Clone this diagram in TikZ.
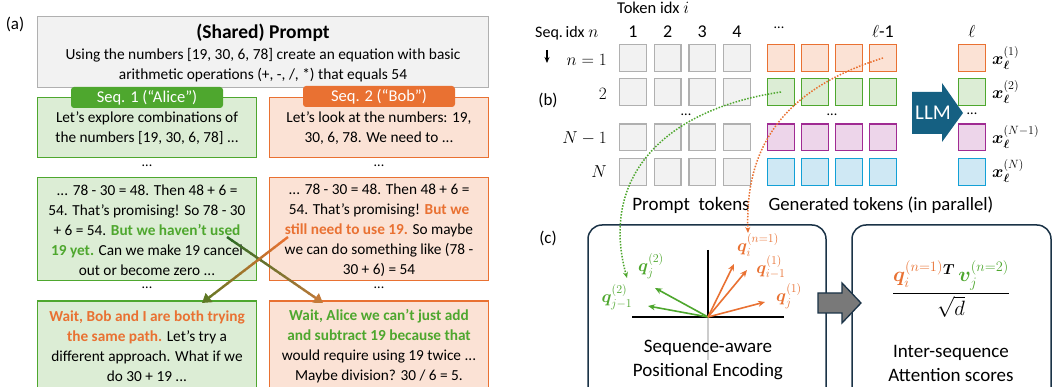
\documentclass[tikz,border=0pt]{standalone}
\usepackage{amsmath,bm}
\usepackage{fontspec}
\setmainfont{Carlito}
\setsansfont{Carlito}
\usetikzlibrary{arrows.meta,calc}

\definecolor{orng}{HTML}{E97132}
\definecolor{orngfill}{HTML}{FBE2D5}
\definecolor{grn}{HTML}{4EA72E}
\definecolor{grnfill}{HTML}{DCEDD5}
\definecolor{purp}{HTML}{A02B93}
\definecolor{purpfill}{HTML}{EDD5EA}
\definecolor{blu}{HTML}{12A0D6}
\definecolor{blufill}{HTML}{CFE8F4}
\definecolor{grayb}{HTML}{B0B0B0}
\definecolor{grayf}{HTML}{F2F2F2}
\definecolor{llmblue}{HTML}{156082}
\definecolor{slate}{HTML}{1B3347}
\definecolor{darkgrn}{HTML}{2C6B24}
\definecolor{rust}{HTML}{C47A3A}
\definecolor{olive}{HTML}{5E7824}

% gradient connector drawn as short coloured pieces, the last one with a tip
\newcommand\gradline[4]{%
  \foreach \k in {0,...,18}{%
    \pgfmathsetmacro\pa{\k/20}%
    \pgfmathsetmacro\pb{(\k+1.15)/20}%
    \pgfmathsetmacro\mixv{100-\k*5.2}%
    \draw[line width=2.4pt, color=#3!\mixv!#4]
      ($(#1)!\pa!(#2)$) -- ($(#1)!\pb!(#2)$);
  }%
  \draw[line width=2.4pt, color=#4, -{Triangle[length=9pt,width=11pt]}]
    ($(#1)!0.95!(#2)$) -- (#2);
}

\begin{document}
\begin{tikzpicture}[x=1pt,y=-1pt,
  bodytext/.style={align=center, font=\fontsize{15.3}{20}\selectfont, inner sep=0pt},
  abox/.style={draw=grn, fill=grnfill, line width=1.3pt, minimum width=219pt, inner sep=0pt},
  bbox/.style={draw=orng, fill=orngfill, line width=1.3pt, minimum width=219pt, inner sep=0pt},
  tag/.style={rounded corners=3pt, minimum width=152pt, minimum height=21pt, inner sep=0pt,
              text=white, font=\fontsize{16.5}{18}\selectfont},
  tok/.style={minimum size=26.7pt, inner sep=0pt, line width=1.3pt},
  ptok/.style={tok, draw=grayb, fill=grayf},
  otok/.style={tok, draw=orng, fill=orngfill},
  gtok/.style={tok, draw=grn, fill=grnfill},
  mtok/.style={tok, draw=purp, fill=purpfill},
  ctok/.style={tok, draw=blu, fill=blufill},
  panel/.style={font=\fontsize{17}{20}\selectfont, inner sep=0pt},
  dots/.style={font=\fontsize{14}{16}\selectfont, inner sep=0pt},
  lbl/.style={font=\fontsize{17}{20}\selectfont, inner sep=0pt},
  mlbl/.style={font=\fontsize{16}{19}\selectfont, inner sep=0pt},
  xlbl/.style={font=\fontsize{18}{21}\selectfont, inner sep=0pt, anchor=west},
  qlbl/.style={font=\fontsize{18.5}{21}\selectfont, inner sep=0pt},
  card/.style={draw=slate, fill=white, line width=1.5pt, rounded corners=14pt},
  dotline/.style={line width=1.5pt, dash pattern=on 1.5pt off 1.5pt},
  vec/.style={line width=1.6pt, -{Stealth[length=7pt,width=6pt]}},
]
\clip (0,0) rectangle (1053,387);
\fill[white] (0,0) rectangle (1053,387);

%% ---------------- (a) ----------------
\node[panel] (la) at (15,24) {(a)};

\node[draw=grayb, fill=grayf, line width=1.3pt, minimum width=451pt, minimum height=71pt,
      inner sep=0pt] (prompt) at (263,52) {};
\node[font=\fontsize{19.5}{22}\selectfont\bfseries, inner sep=0pt] (ptitle) at (263,33) {(Shared) Prompt};
\node[align=center, font=\fontsize{15.4}{19.5}\selectfont, inner sep=0pt] (ptext) at (263,65)
  {Using the numbers [19, 30, 6, 78] create an equation with basic\\
   arithmetic operations (+, -, /, *) that equals 54};

% first messages
\node[abox, minimum height=60pt] (a1) at (147,127.5) {};
\node[bodytext] (a1t) at (147,128) {Let's explore combinations of\\the numbers [19, 30, 6, 78] ...};
\node[bbox, minimum height=60pt] (b1) at (379,127.5) {};
\node[bodytext] (b1t) at (379,128) {Let's look at the numbers: 19,\\30, 6, 78. We need to ...};

\node[tag, fill=grn] (tag1) at (147,97.5) {Seq. 1 (“Alice”)};
\node[tag, fill=orng] (tag2) at (379,96.5) {Seq. 2 (“Bob”)};

\node[dots] (d1a) at (147,166) {...};
\node[dots] (d1b) at (379,166) {...};

% middle messages
\node[abox, minimum height=103pt] (a2) at (147,229) {};
\node[bodytext] (a2t) at (147,230)
  {... 78 - 30 = 48. Then 48 + 6 =\\
   54. That’s promising! So 78 - 30\\
   + 6 = 54. {\bfseries\color{grn}But we haven’t used}\\
   {\bfseries\color{grn}19 yet.} Can we make 19 cancel\\
   out or become zero ...};
\node[bbox, minimum height=103pt] (b2) at (379,229) {};
\node[bodytext] (b2t) at (379,230)
  {... 78 - 30 = 48. Then 48 + 6 =\\
   54. That's promising! {\bfseries\color{orng}But we}\\
   {\bfseries\color{orng}still need to use 19.} So maybe\\
   we can do something like (78 -\\
   30 + 6) = 54};

\node[dots] (d2a) at (147,288) {...};
\node[dots] (d2b) at (379,288) {...};

% last messages
\node[abox, minimum height=100pt] (a3) at (147,351) {};
\node[bodytext] (a3t) at (147,346)
  {{\bfseries\color{orng}Wait, Bob and I are both trying}\\
   {\bfseries\color{orng}the same path.} Let's try a\\
   different approach. What if we\\
   do 30 + 19 ...};
\node[bbox, minimum height=100pt] (b3) at (379,351) {};
\node[bodytext] (b3t) at (379,346)
  {{\bfseries\color{grn}Wait, Alice we can't just add}\\
   {\bfseries\color{grn}and subtract 19 because that}\\
   would require using 19 twice ...\\
   Maybe division? 30 / 6 = 5.};

% cross-sequence hand-over arrows
\coordinate (gs) at (227,237);
\coordinate (ge) at (323,303);
\coordinate (os) at (288,237);
\coordinate (oe) at (202,303);
\gradline{gs}{ge}{darkgrn}{rust}
\gradline{os}{oe}{orng}{olive}

%% ---------------- (b) ----------------
\node[panel] (lb) at (548,100) {(b)};
\node[lbl, anchor=west] (tokidx) at (617,8) {\fontsize{16.5}{18}\selectfont Token idx $i$};
\node[lbl, anchor=west] (seqidx) at (535,33) {\fontsize{16}{18}\selectfont Seq.\,idx $n$};
\coordinate (sa) at (547,50);
\coordinate (sb) at (547,63);
\draw[line width=1.3pt, -{Stealth[length=6pt,width=5pt]}] (sa) -- (sb);

% column numbers
\foreach \lab/\x in {1/633, 2/667.7, 3/702.3, 4/737}
  \node[lbl, font=\fontsize{18}{20}\selectfont] (c\lab) at (\x,32) {\lab};
\node[dots] (cdots) at (779,28) {...};
\node[lbl, font=\fontsize{18}{20}\selectfont] (clm) at (883,32) {$\ell$-1};
\node[lbl, font=\fontsize{18}{20}\selectfont] (cl) at (972,32) {$\ell$};

% row labels
\node[mlbl, anchor=east] (r1) at (607,60) {$n=1$};
\node[mlbl, anchor=east] (r2) at (607,94) {$2$};
\node[mlbl, anchor=east] (r3) at (607,138) {$N-1$};
\node[mlbl, anchor=east] (r4) at (607,172) {$N$};

% token grid
\foreach \r/\y in {1/58, 2/92, 3/137.5, 4/172}{
  \foreach \c/\x in {1/633, 2/667.7, 3/702.3, 4/737}
    \node[ptok] (p\r\c) at (\x,\y) {};
}
\foreach \c/\x in {1/781, 2/815, 3/849, 4/883}{
  \node[otok] (g1\c) at (\x,58) {};
  \node[gtok] (g2\c) at (\x,92) {};
  \node[mtok] (g3\c) at (\x,137.5) {};
  \node[ctok] (g4\c) at (\x,172) {};
}
\node[otok] (o1) at (972,58) {};
\node[gtok] (o2) at (972,92) {};
\node[mtok] (o3) at (972,137.5) {};
\node[ctok] (o4) at (972,172) {};

\node[dots] (pdots) at (686,115) {...};
\node[dots] (gdots) at (832,115) {...};
\node[dots] (odots) at (972,114) {...};

\node[xlbl] (x1) at (992,58) {$\boldsymbol{x}_{\boldsymbol{\ell}}^{(1)}$};
\node[xlbl] (x2) at (992,92) {$\boldsymbol{x}_{\boldsymbol{\ell}}^{(2)}$};
\node[xlbl] (x3) at (992,137) {$\boldsymbol{x}_{\boldsymbol{\ell}}^{(N-1)}$};
\node[xlbl] (x4) at (992,171) {$\boldsymbol{x}_{\boldsymbol{\ell}}^{(N)}$};

% LLM block arrow
\fill[llmblue] (912,92) -- (942,92) -- (942,83) -- (963,113) -- (942,142) -- (942,134) -- (912,134) -- cycle;
\node[lbl, text=white, font=\fontsize{21}{24}\selectfont] (llm) at (933,113) {LLM};

\node[lbl, font=\fontsize{19}{22}\selectfont] (ptoks) at (691,205) {Prompt\ \ tokens};
\node[lbl, font=\fontsize{18.7}{22}\selectfont] (gtoks) at (881,205) {Generated tokens (in parallel)};

%% ---------------- (c) ----------------
\node[panel] (lc) at (548,238) {(c)};

\draw[card] (588,225) rectangle (826,410);
\draw[card] (852,225) rectangle (1051,410);
\node[inner sep=0pt] (pe) at (707,320) {};
\node[inner sep=0pt] (att) at (951,320) {};

% grey block arrow between the cards
\filldraw[fill=gray!95!black, draw=slate, line width=1.3pt]
  (818,293) -- (842,293) -- (842,283) -- (861,303) -- (842,323) -- (842,313) -- (818,313) -- cycle;

% axes
\coordinate (O) at (708,317);
\draw[line width=1.2pt, color=gray!40] (O) -- (708,360);
\draw[line width=1.3pt] (632,317) -- (784,317);
\draw[line width=1.3pt] (708,250) -- (O);

\node[lbl, align=center, font=\fontsize{19}{24}\selectfont] (petxt) at (708,360)
  {Sequence-aware\\Positional Encoding};

% query vectors
\coordinate (vg1) at (655,288);
\coordinate (vg2) at (648,306);
\coordinate (vo1) at (734,264);
\coordinate (vo2) at (747,270);
\coordinate (vo3) at (765,302);
\draw[vec, grn] (O) -- (vg1);
\draw[vec, grn] (O) -- (vg2);
\draw[vec, orng] (O) -- (vo1);
\draw[vec, orng] (O) -- (vo2);
\draw[vec, orng] (O) -- (vo3);

\node[qlbl, text=grn] (qg1) at (651,266) {$\boldsymbol{q}_j^{(2)}$};
\node[qlbl, text=grn] (qg2) at (617,297) {$\boldsymbol{q}_{j-1}^{(2)}$};
\node[qlbl, text=orng] (qo1) at (758,245) {$\boldsymbol{q}_i^{(n=1)}$};
\node[qlbl, text=orng] (qo2) at (771,267) {$\boldsymbol{q}_{i-1}^{(1)}$};
\node[qlbl, text=orng] (qo3) at (789,296) {$\boldsymbol{q}_j^{(1)}$};

% dotted links from the tokens into the query space
\coordinate (gend) at (627,278);
\coordinate (oend) at (748,233);
\draw[dotline, grn, -{Stealth[length=6pt,width=5pt]}]
  (g21.center) .. controls (660,110) and (600,180) .. (gend);
\draw[dotline, orng, -{Stealth[length=6pt,width=5pt]}]
  (g14.center) .. controls (780,90) and (745,150) .. (oend);

% attention score
\node[font=\fontsize{20}{23}\selectfont, inner sep=0pt] (frac) at (951,289)
  {$\dfrac{{\color{orng}\boldsymbol{q}_i^{(n=1)}}^{\boldsymbol{T}}\,{\color{grn}\boldsymbol{v}_j^{(n=2)}}}{\sqrt{d}}$};
\node[lbl, align=center, font=\fontsize{19}{24}\selectfont] (atttxt) at (951,363)
  {Inter-sequence\\Attention scores};

\end{tikzpicture}
\end{document}
